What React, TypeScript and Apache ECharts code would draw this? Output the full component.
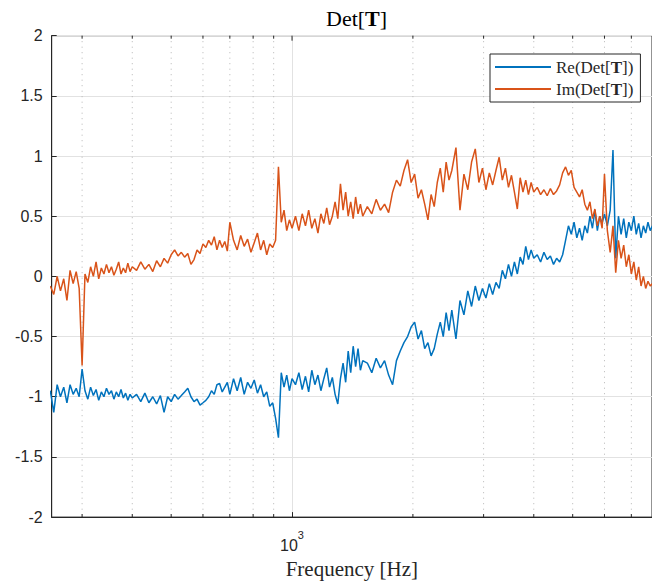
import React, { useEffect, useRef } from 'react';
import * as echarts from 'echarts';

// Frequency samples [Hz]
const freqHz = [
  250, 255, 260, 265, 270, 275, 280, 285, 290, 295, 300, 305, 310, 315, 320, 325, 330, 335, 340, 345, 350, 355, 360, 365, 370, 375, 380, 385, 390, 395, 400,
  410, 420, 430, 440, 450, 460, 470, 480, 490, 500, 510, 520, 530, 540, 550, 560, 570, 580, 590, 600, 610, 620, 630, 640, 650, 660, 670, 680, 690, 700,
  715, 730, 745, 760, 775, 790, 805, 820, 835, 850, 865, 880, 895, 910, 925, 940, 955, 970, 985, 1000,
  1020, 1040, 1060, 1080, 1100, 1120, 1140, 1160, 1180, 1200, 1220, 1240, 1260, 1280, 1300, 1320, 1340, 1360, 1380, 1400, 1420, 1440, 1460, 1480, 1500,
  1540, 1580, 1620, 1660, 1700, 1740, 1780, 1820, 1860, 1900, 1940, 1980, 2020, 2060, 2100, 2140, 2180, 2220, 2260, 2300, 2340, 2380, 2420, 2460, 2500,
  2560, 2620, 2680, 2740, 2800, 2860, 2920, 2980, 3040, 3100, 3160, 3220, 3280, 3340, 3400, 3460, 3520, 3580, 3640, 3700, 3760, 3820, 3880, 3940, 4000,
  4080, 4160, 4240, 4320, 4400, 4480, 4560, 4640, 4720, 4800, 4880, 4960, 5040, 5120, 5200, 5280, 5360, 5440, 5520, 5600, 5680, 5760, 5840, 5920, 6000,
  6100, 6200, 6300, 6400, 6500, 6600, 6700, 6800, 6900, 7000, 7100, 7200, 7300, 7400, 7500, 7600, 7700, 7800, 7900, 8000,
];

// Re(Det[T])
const reDet = [
  -0.95, -1.13, -0.9, -1.0, -0.92, -1.05, -0.9, -0.98, -0.93, -1.0, -0.77, -0.95, -1.02, -0.92, -0.99, -0.94, -1.03, -0.96, -1.0, -0.93, -0.98, -0.95, -1.02, -0.96, -1.0, -0.94, -1.01, -0.97, -1.03, -0.98, -1.01,
  -0.98, -1.04, -0.97, -1.05, -1.0, -1.06, -0.99, -1.13, -1.0, -1.04, -0.98, -1.02, -0.99, -0.96, -0.93, -1.0, -1.04, -1.02, -1.07, -1.05, -1.03, -1.0, -0.95, -0.98, -0.9, -0.89, -0.96, -0.92, -0.88, -0.98,
  -0.85, -0.95, -0.84, -0.98, -0.88, -0.93, -0.86, -0.97, -0.9, -1.0, -0.96, -1.08, -1.05, -1.18, -1.34, -0.8, -0.92, -0.82, -0.95, -0.85,
  -0.9, -0.8, -0.94, -0.83, -0.96, -0.78, -0.9, -0.82, -0.95, -0.85, -0.76, -0.92, -0.84, -0.98, -1.06, -0.85, -0.72, -0.88, -0.62, -0.8, -0.58, -0.75, -0.6, -0.78, -0.7,
  -0.72, -0.8, -0.68, -0.76, -0.7, -0.82, -0.9, -0.7, -0.62, -0.55, -0.5, -0.42, -0.38, -0.52, -0.45, -0.6, -0.55, -0.66, -0.6, -0.48, -0.38, -0.5, -0.3, -0.45, -0.28,
  -0.52, -0.2, -0.32, -0.12, -0.25, -0.08, -0.2, -0.1, -0.18, -0.06, -0.15, -0.05, -0.1, 0.05, -0.02, 0.1, 0.0, 0.12, 0.02, 0.16, 0.1, 0.25, 0.14, 0.22, 0.15,
  0.18, 0.12, 0.2, 0.14, 0.17, 0.1, 0.15, 0.12, 0.18, 0.3, 0.42, 0.35, 0.45, 0.32, 0.4, 0.3, 0.42, 0.36, 0.5, 0.4, 0.55, 0.38, 0.5, 0.44, 0.52,
  0.42, 0.55, 1.05, 0.15, 0.5, 0.35, 0.48, 0.32, 0.45, 0.38, 0.5, 0.35, 0.44, 0.32, 0.42, 0.36, 0.45, 0.38, 0.42, 0.4,
];

// Im(Det[T])
const imDet = [
  -0.08, -0.15, 0.0, -0.12, -0.02, -0.2, 0.05, -0.06, 0.04, -0.1, -0.74, 0.02, -0.05, 0.08, 0.0, 0.12, -0.02, 0.07, 0.02, 0.1, 0.03, 0.08, 0.01, 0.06, 0.12, 0.02, 0.07, 0.03, 0.11, 0.04, 0.08,
  0.05, 0.12, 0.06, 0.1, 0.04, 0.13, 0.08, 0.15, 0.11, 0.18, 0.22, 0.17, 0.2, 0.16, 0.19, 0.1, 0.14, 0.22, 0.19, 0.27, 0.24, 0.3, 0.26, 0.33, 0.22, 0.3, 0.24, 0.29, 0.21, 0.45,
  0.3, 0.22, 0.34, 0.25, 0.31, 0.2, 0.28, 0.36, 0.22, 0.3, 0.18, 0.27, 0.24, 0.3, 0.91, 0.45, 0.55, 0.38, 0.47, 0.4,
  0.5, 0.38, 0.52, 0.42, 0.55, 0.4, 0.48, 0.36, 0.52, 0.44, 0.57, 0.43, 0.5, 0.62, 0.48, 0.77, 0.55, 0.7, 0.5, 0.62, 0.48, 0.66, 0.52, 0.6, 0.5,
  0.58, 0.52, 0.64, 0.55, 0.6, 0.53, 0.7, 0.8, 0.75, 0.88, 0.97, 0.78, 0.85, 0.65, 0.72, 0.6, 0.47, 0.68, 0.58, 0.78, 0.9, 0.7, 0.95, 0.8, 0.88,
  1.07, 0.55, 0.85, 0.72, 0.95, 1.06, 0.78, 0.9, 0.72, 0.86, 0.76, 0.88, 0.99, 0.8, 0.9, 0.74, 0.84, 0.7, 0.56, 0.82, 0.7, 0.8, 0.68, 0.78, 0.7,
  0.74, 0.68, 0.72, 0.67, 0.73, 0.68, 0.71, 0.76, 0.86, 0.91, 0.84, 0.88, 0.74, 0.7, 0.66, 0.72, 0.6, 0.55, 0.62, 0.48, 0.56, 0.42, 0.5, 0.4, 0.85,
  0.38, 0.2, 0.42, 0.03, 0.3, 0.15, 0.26, 0.08, 0.18, 0.02, 0.12, -0.03, 0.08, -0.08, 0.0, -0.1, -0.04, -0.08, -0.06, -0.1,
];

const seriesNames = ['Re(Det[T])', 'Im(Det[T])'];
const seriesColors = ['#0072BD', '#D95319'];
const minorGridHz = [300, 400, 500, 600, 700, 800, 900, 2000, 3000, 4000, 5000, 6000, 7000];
const majorTickHz = [1000];
const xMinHz = 252;
const xMaxHz = 7880;

export default function App() {
  const ref = useRef<HTMLDivElement>(null);
  useEffect(() => {
    const chart = echarts.init(ref.current as HTMLDivElement, undefined, { renderer: 'svg' });
    const axisColor = '#262626';
    const sans = 'Liberation Sans';
    const serif = 'Liberation Serif';
    const tickData = [
      ...minorGridHz.map((f) => [f, 0, 1]),
      ...majorTickHz.map((f) => [f, 0, 0]),
    ];
    const titlePart = (text: string, x: number, weight: string) => ({
      type: 'text',
      x,
      y: 7,
      silent: true,
      style: {
        text,
        fill: '#000',
        fontFamily: serif,
        fontSize: 22,
        fontWeight: weight,
        textVerticalAlign: 'top',
      },
    });
    chart.setOption({
      animation: false,
      backgroundColor: '#ffffff',
      graphic: [
        titlePart('Det[', 326, 'normal'),
        titlePart('T', 365.1, 'bold'),
        titlePart(']', 379.8, 'normal'),
      ],
      legend: {
        data: seriesNames,
        orient: 'vertical',
        left: 490,
        top: 54,
        padding: [3, 7, 3, 5],
        itemGap: 2,
        itemWidth: 56,
        itemHeight: 2,
        icon: 'rect',
        backgroundColor: '#ffffff',
        borderColor: axisColor,
        borderWidth: 1,
        borderRadius: 0,
        formatter: (n: string) => n.replace('[T]', '[{b|T}]'),
        textStyle: {
          fontFamily: serif,
          fontSize: 17,
          color: axisColor,
          lineHeight: 20,
          rich: {
            b: { fontFamily: serif, fontSize: 17, fontWeight: 'bold', color: axisColor, lineHeight: 20 },
          },
        },
      },
      grid: {
        left: 51.7,
        top: 35.7,
        width: 609.1,
        height: 483.3,
        show: true,
        borderColor: axisColor,
        borderWidth: 1,
        backgroundColor: '#ffffff',
      },
      xAxis: {
        type: 'log',
        logBase: 10,
        min: xMinHz,
        max: xMaxHz,
        name: 'Frequency [Hz]',
        nameLocation: 'middle',
        nameGap: 38,
        nameTextStyle: { fontFamily: serif, fontSize: 21, color: axisColor },
        axisLine: { show: true, onZero: false, lineStyle: { color: axisColor, width: 1 } },
        axisTick: { show: true, inside: true, length: 5, lineStyle: { color: axisColor } },
        splitLine: { show: true, lineStyle: { color: '#e2e2e2', width: 1 } },
        minorTick: { show: false },
        axisLabel: {
          showMinLabel: false,
          showMaxLabel: false,
          margin: 12,
          color: axisColor,
          formatter: (v: number) => (Math.abs(v - 1000) < 1 ? '{b|10}{s|3}' : ''),
          rich: {
            b: { fontFamily: sans, fontSize: 16, color: axisColor, lineHeight: 24, verticalAlign: 'bottom' },
            s: { fontFamily: sans, fontSize: 11, color: axisColor, lineHeight: 24, verticalAlign: 'top' },
          },
        },
      },
      yAxis: {
        type: 'value',
        min: -2,
        max: 2,
        interval: 0.5,
        axisLine: { show: true, onZero: false, lineStyle: { color: axisColor, width: 1 } },
        axisTick: { show: true, inside: true, length: 5, lineStyle: { color: axisColor } },
        splitLine: { show: true, lineStyle: { color: '#e2e2e2', width: 1 } },
        axisLabel: {
          fontFamily: sans,
          fontSize: 16,
          color: axisColor,
          margin: 9,
          padding: [6, 0, 0, 0],
        },
      },
      series: [
        {
          type: 'custom',
          silent: true,
          data: tickData,
          encode: { x: 0, y: 1 },
          renderItem: (_params: any, api: any) => {
            const f = api.value(0);
            const isMinor = api.value(2) === 1;
            const top = api.coord([f, 2]);
            const bot = api.coord([f, -2]);
            const children: any[] = [];
            if (isMinor) {
              children.push({
                type: 'line',
                shape: { x1: top[0], y1: top[1], x2: bot[0], y2: bot[1] },
                style: { stroke: '#b5b5b5', lineWidth: 1, lineDash: [1, 4.5] },
              });
              children.push({
                type: 'line',
                shape: { x1: bot[0], y1: bot[1], x2: bot[0], y2: bot[1] - 3 },
                style: { stroke: axisColor, lineWidth: 1 },
              });
            }
            children.push({
              type: 'line',
              shape: { x1: top[0], y1: top[1], x2: top[0], y2: top[1] + (isMinor ? 3 : 5) },
              style: { stroke: axisColor, lineWidth: 1 },
            });
            return { type: 'group', children };
          },
        },
        {
          name: seriesNames[0],
          type: 'line',
          data: freqHz.map((f, i) => [f, reDet[i]]),
          showSymbol: false,
          symbol: 'none',
          clip: true,
          itemStyle: { color: seriesColors[0] },
          lineStyle: { color: seriesColors[0], width: 1.5 },
        },
        {
          name: seriesNames[1],
          type: 'line',
          data: freqHz.map((f, i) => [f, imDet[i]]),
          showSymbol: false,
          symbol: 'none',
          clip: true,
          itemStyle: { color: seriesColors[1] },
          lineStyle: { color: seriesColors[1], width: 1.5 },
        },
      ],
    });
    return () => chart.dispose();
  }, []);
  return <div ref={ref} style={{ position: 'fixed', left: 0, top: 0, width: 652, height: 584 }} />;
}
